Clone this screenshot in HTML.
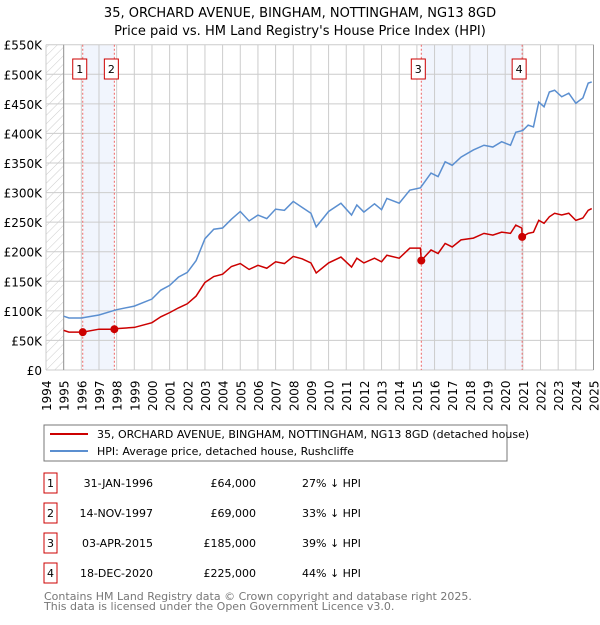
<!DOCTYPE html>
<html><head><meta charset="utf-8"><style>
body{margin:0;background:#fff;font-family:"Liberation Sans","DejaVu Sans",sans-serif;}
svg text{font-family:"DejaVu Sans","Liberation Sans",sans-serif;}
</style></head><body>
<svg id="c" width="600" height="620" xmlns="http://www.w3.org/2000/svg">
<defs><pattern id="hatch" width="6" height="6" patternUnits="userSpaceOnUse" patternTransform="rotate(45)"><line x1="0" y1="0" x2="0" y2="6" stroke="#ccc" stroke-width="1"/></pattern></defs>
<text x="300" y="17" text-anchor="middle" font-size="13">35, ORCHARD AVENUE, BINGHAM, NOTTINGHAM, NG13 8GD</text>
<text x="300" y="35" text-anchor="middle" font-size="13">Price paid vs. HM Land Registry's House Price Index (HPI)</text>
<g id="plot"></g>
<rect x="44" y="425" width="463" height="36" fill="#fff" stroke="#777"/>
<line x1="50" y1="434" x2="88" y2="434" stroke="#cc0000" stroke-width="2"/>
<text x="97" y="438" font-size="11">35, ORCHARD AVENUE, BINGHAM, NOTTINGHAM, NG13 8GD (detached house)</text>
<line x1="50" y1="451" x2="88" y2="451" stroke="#5b8fd0" stroke-width="2"/>
<text x="97" y="455" font-size="11">HPI: Average price, detached house, Rushcliffe</text>
<g id="table" font-size="11"></g>
<text x="44" y="600" font-size="11" fill="#777">Contains HM Land Registry data © Crown copyright and database right 2025.</text>
<text x="44" y="610" font-size="11" fill="#777">This data is licensed under the Open Government Licence v3.0.</text>
</svg>
<script>
const hpiX=[1995,1995.3,1996,1997,1998,1999,2000,2000.5,2001,2001.5,2002,2002.5,2003,2003.5,2004,2004.5,2005,2005.5,2006,2006.5,2007,2007.5,2008,2008.5,2009,2009.3,2010,2010.7,2011.3,2011.6,2012,2012.6,2013,2013.3,2014,2014.6,2015.2,2015.8,2016.2,2016.6,2017,2017.5,2018.2,2018.8,2019.3,2019.8,2020.3,2020.6,2021,2021.3,2021.6,2021.9,2022.2,2022.5,2022.8,2023.2,2023.6,2024,2024.4,2024.7,2024.9];
const hpiY=[91,88,88,93,102,108,120,135,143,157,165,185,222,238,240,255,268,252,262,256,272,270,285,275,265,242,268,282,262,279,267,281,271,290,282,304,308,333,327,352,346,360,372,380,377,386,380,402,405,414,411,453,445,470,473,462,468,451,460,485,487];
const redX=[1995,1995.3,1996,1996.08,1997,1997.87,1998,1999,2000,2000.5,2001,2001.5,2002,2002.5,2003,2003.5,2004,2004.5,2005,2005.5,2006,2006.5,2007,2007.5,2008,2008.5,2009,2009.3,2010,2010.7,2011.3,2011.6,2012,2012.6,2013,2013.3,2014,2014.6,2015.2,2015.25,2015.8,2016.2,2016.6,2017,2017.5,2018.2,2018.8,2019.3,2019.8,2020.3,2020.6,2020.94,2020.96,2021.3,2021.6,2021.9,2022.2,2022.5,2022.8,2023.2,2023.6,2024,2024.4,2024.7,2024.9];
const redY=[67,64,64,64,69,69,70,72,80,90,97,105,112,125,148,158,162,175,180,170,177,172,183,180,192,188,181,164,181,191,174,189,181,189,183,194,189,206,206,185,203,197,214,208,220,223,231,228,233,231,245,240,225,231,233,253,248,259,265,262,265,253,257,270,273];
const saleX=[1996.08,1997.87,2015.25,2020.96];
const saleY=[64,69,185,225];
const saleLabels=["1","2","3","4"];
const saleDates=["31-JAN-1996","14-NOV-1997","03-APR-2015","18-DEC-2020"];
const salePrices=["£64,000","£69,000","£185,000","£225,000"];
const saleHpi=["27% ↓ HPI","33% ↓ HPI","39% ↓ HPI","44% ↓ HPI"];
const yTicks=[0,50,100,150,200,250,300,350,400,450,500,550];
const yTickLabels=["£0","£50K","£100K","£150K","£200K","£250K","£300K","£350K","£400K","£450K","£500K","£550K"];
const xYears=[1994,1995,1996,1997,1998,1999,2000,2001,2002,2003,2004,2005,2006,2007,2008,2009,2010,2011,2012,2013,2014,2015,2016,2017,2018,2019,2020,2021,2022,2023,2024,2025];

const NS="http://www.w3.org/2000/svg";
const L=46,R=593.5,T=44.7,B=370;
const xs=v=>L+(v-1994)*(R-L)/31;
const ys=v=>B-v*(B-T)/550;
const g=document.getElementById('plot');
function mk(t,a,p){const e=document.createElementNS(NS,t);for(const k in a)e.setAttribute(k,a[k]);(p||g).appendChild(e);return e;}
// shaded
let e=mk('rect',{x:L,y:T,width:xs(1995)-L,height:B-T,fill:'url(#hatch)'});


for(const [a,b] of [[0,1],[2,3]]){e=mk('rect',{x:xs(saleX[a]),y:T,width:xs(saleX[b])-xs(saleX[a]),height:B-T,fill:'#eef3fc',opacity:0.8});

}
// grid
yTicks.forEach((v,i)=>{e=mk('line',{x1:L,x2:R,y1:ys(v),y2:ys(v),stroke:'#ccc'});


e=mk('text',{x:L-4,y:ys(v)+5,'text-anchor':'end','font-size':12});e.textContent=yTickLabels[i];

});
xYears.forEach(v=>{e=mk('line',{x1:xs(v),x2:xs(v),y1:T,y2:B,stroke:'#ccc'});


e=mk('text',{x:0,y:0,'font-size':12,transform:`translate(${xs(v)+5},${B+41}) rotate(-90)`});e.textContent=v;

});
e=mk('line',{x1:xs(1995),x2:xs(1995),y1:T,y2:B,stroke:'#999'});


e=mk('line',{x1:R,x2:R,y1:T,y2:B,stroke:'#999'});


// sale vlines
saleX.forEach((v,i)=>{e=mk('line',{x1:xs(v),x2:xs(v),y1:T,y2:B,stroke:'#e66','stroke-dasharray':'2,2'});


e=mk('rect',{x:xs(v)-10,y:59,width:14,height:20,fill:'#fff',stroke:'#cc0000'});


e=mk('text',{x:xs(v)-3,y:73,'text-anchor':'middle','font-size':11});e.textContent=saleLabels[i];

});
e=mk('polyline',{points:hpiX.map((x,i)=>xs(x)+','+ys(hpiY[i])).join(' '),fill:'none',stroke:'#5b8fd0','stroke-width':1.5});


e=mk('polyline',{points:redX.map((x,i)=>xs(x)+','+ys(redY[i])).join(' '),fill:'none',stroke:'#cc0000','stroke-width':1.5});


saleX.forEach((v,i)=>{e=mk('circle',{cx:xs(v),cy:ys(saleY[i]),r:4,fill:'#cc0000'});

});
// table
const tb=document.getElementById('table');
saleX.forEach((v,i)=>{const y=483+i*30;
e=mk('rect',{x:44,y:y-10,width:13,height:20,fill:'#fff',stroke:'#cc0000'},tb);


e=mk('text',{x:50.5,y:y+4,'text-anchor':'middle'},tb);e.textContent=saleLabels[i];


e=mk('text',{x:153,y:y+4,'text-anchor':'end'},tb);e.textContent=saleDates[i];


e=mk('text',{x:256,y:y+4,'text-anchor':'end'},tb);e.textContent=salePrices[i];


e=mk('text',{x:302,y:y+4},tb);e.textContent=saleHpi[i];

});
</script>
</body></html>
